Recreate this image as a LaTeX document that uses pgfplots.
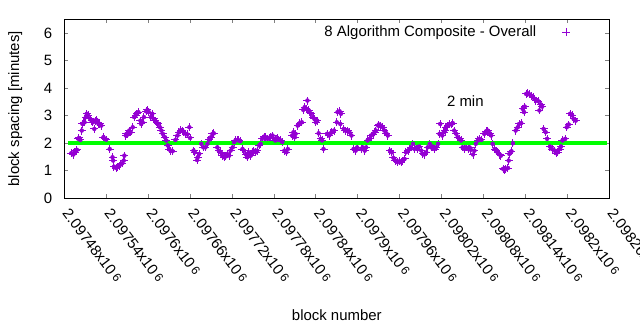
\documentclass[border=0pt]{standalone}
\usepackage{pgfplots}
\pgfplotsset{compat=1.18}
\usepackage{pgfplotstable}
\usepackage{fontspec}
\setmainfont{Liberation Sans}
\definecolor{gpviolet}{RGB}{148,0,211}
\definecolor{gpgreen}{RGB}{0,255,0}
\newcommand{\sx}{x10\,{\fontsize{12}{14}\selectfont\raisebox{1.5bp}{6}}}
% x = block number - 2097480
\pgfplotstableread{
x y
10 1.64
13 1.59
15 1.67
17 1.73
18 1.76
20 2.16
21 2.19
23 2.12
25 2.46
26 2.70
28 2.76
29 2.76
31 2.95
32 3.07
34 3.01
37 2.88
39 2.82
41 2.76
43 2.52
44 2.82
46 2.85
48 2.76
49 2.70
51 2.70
53 2.64
56 2.22
58 2.16
60 2.13
65 1.79
69 1.49
70 1.37
71 1.15
74 1.10
76 1.15
79 1.19
81 1.25
83 1.27
85 1.37
86 1.55
88 2.28
89 2.34
91 2.32
93 2.46
95 2.40
98 2.58
100 2.95
102 3.01
104 3.07
106 3.13
109 2.82
110 2.70
112 2.76
114 2.95
117 3.16
119 3.21
121 3.13
124 2.95
126 3.07
128 2.88
130 2.82
132 2.76
134 2.70
137 2.58
139 2.46
141 2.34
144 2.22
146 2.10
148 1.92
150 1.79
152 1.73
155 1.71
159 2.12
162 2.28
164 2.40
167 2.48
169 2.46
171 2.40
174 2.34
176 2.32
179 2.58
180 2.19
185 1.73
187 1.67
190 1.39
191 1.49
193 1.61
196 1.98
199 1.85
202 1.85
205 1.98
207 2.12
210 2.22
212 2.34
214 2.36
219 1.85
221 1.73
224 1.67
226 1.55
229 1.49
231 1.52
233 1.61
236 1.55
238 1.73
241 1.85
243 2.04
245 2.10
248 2.12
250 2.10
252 2.07
255 1.79
257 1.73
260 1.59
262 1.49
264 1.67
267 1.55
269 1.67
271 1.73
274 1.67
276 1.73
279 1.92
281 1.98
283 2.16
286 2.24
288 2.22
291 2.16
293 2.19
295 2.22
298 2.28
300 2.16
302 2.10
305 2.19
307 2.12
310 2.10
312 2.04
315 1.73
318 1.67
320 1.79
326 2.28
328 2.40
330 2.22
331 2.34
334 2.64
337 2.73
340 2.76
342 3.21
344 3.31
346 3.25
348 3.55
350 3.19
351 3.13
353 3.07
356 2.95
358 2.88
360 2.76
362 2.82
364 2.36
367 2.16
369 2.10
371 1.79
376 2.34
379 2.28
381 2.36
383 2.40
386 2.46
390 2.76
391 3.13
394 3.16
395 2.70
396 3.07
400 2.52
402 2.46
406 2.46
408 2.40
411 2.28
414 1.79
417 1.73
419 1.85
425 1.79
427 1.85
430 1.73
432 1.85
434 2.10
437 2.16
439 2.28
442 2.32
444 2.40
446 2.46
449 2.64
450 2.68
453 2.64
456 2.58
458 2.46
461 2.36
463 2.28
466 1.73
469 1.67
471 1.47
474 1.37
477 1.31
480 1.35
482 1.31
484 1.37
487 1.43
489 1.67
492 1.73
494 1.79
496 1.85
499 1.98
501 1.79
504 1.85
506 1.79
508 1.88
511 1.73
513 1.61
515 1.59
518 1.67
520 1.85
523 1.98
525 1.85
527 1.88
530 1.79
532 1.85
535 1.98
537 2.34
538 2.70
541 2.28
543 2.40
545 2.46
546 2.58
549 2.64
551 2.70
554 2.68
556 2.73
558 2.46
561 2.34
563 2.22
566 2.16
568 2.10
570 1.85
573 1.79
575 1.85
578 1.79
580 1.85
582 1.76
585 1.59
587 1.73
589 1.98
592 2.10
594 2.16
597 2.12
601 2.34
604 2.44
606 2.46
609 2.36
611 2.28
613 1.98
616 1.79
618 1.73
620 1.67
623 1.59
625 1.55
628 1.07
630 1.03
632 1.07
635 1.10
636 1.37
637 1.61
640 1.71
642 2.00
646 2.46
649 2.58
651 2.70
654 2.73
656 3.25
658 3.13
659 3.33
661 3.79
663 3.82
666 3.77
668 3.73
671 3.67
673 3.61
675 3.55
678 3.53
680 3.19
682 3.41
684 3.33
686 2.52
689 2.40
691 2.16
695 1.88
698 1.79
702 1.73
704 1.64
706 1.67
709 1.79
711 1.88
713 2.10
717 2.16
719 2.58
722 2.68
724 3.07
727 3.01
729 2.88
732 2.82
}\datatable
\begin{document}
\fontsize{15}{18}\selectfont
\begin{tikzpicture}
\path[use as bounding box] (0,0) rectangle (640bp,330bp);
\begin{axis}[
  at={(64.3bp,131.7bp)}, anchor=south west,
  scale only axis, width=545bp, height=179bp,
  xmin=0, xmax=780, ymin=0, ymax=6.5,
  xtick={0,60,...,780},
  xticklabels={2.09748\sx,2.09754\sx,2.0976\sx,2.09766\sx,2.09772\sx,2.09778\sx,2.09784\sx,2.0979\sx,2.09796\sx,2.09802\sx,2.09808\sx,2.09814\sx,2.0982\sx,2.09826\sx},
  ytick={0,1,...,6},
  tick align=inside, major tick length=4bp,
  axis line style={line width=1bp}, tick style={line width=0.8bp},
  /pgf/number format/assume math mode=true,
  ticklabel style={font=\fontsize{15}{18}\selectfont},
  xticklabel style={xshift=6bp, yshift=-9bp, rotate=-53, anchor=north west, inner sep=0pt},
  yticklabel style={inner sep=0pt, xshift=-12bp},
  xlabel={block number},
  ylabel={block spacing [minutes]},
  xlabel style={at={(axis description cs:0.5,-0.685)}, anchor=base, inner sep=0pt},
  ylabel style={at={(axis description cs:-0.077,0.5)}, anchor=south, inner sep=0pt},
  label style={font=\fontsize{15}{18}\selectfont},
  legend style={draw=none, fill=none, at={(axis description cs:0.93,0.929)}, anchor=east, inner sep=0pt, font=\fontsize{15}{18}\selectfont},
  legend plot pos=right,
  legend cell align=right,
  legend image code/.code={\path (0bp,0bp); \draw[gpviolet, line width=1bp] (24bp,0bp) -- (32bp,0bp) (28bp,-4bp) -- (28bp,4bp);},
  clip=false,
]
\addplot[gpviolet, only marks, mark=none,
  error bars/.cd, x dir=both, y dir=both, x fixed=5.72, y fixed=0.145,
  error mark=none, error bar style={line width=1bp, gpviolet, solid}]
  table[x=x,y=y] {\datatable};
\addlegendentry{8 Algorithm Composite - Overall}
\addplot[forget plot, color=gpgreen, line width=3.7bp] coordinates {(5,2) (776,2)};
\node[font=\fontsize{15}{18}\selectfont] at (axis cs:574,3.52) {2 min};
\end{axis}
\end{tikzpicture}
\end{document}
